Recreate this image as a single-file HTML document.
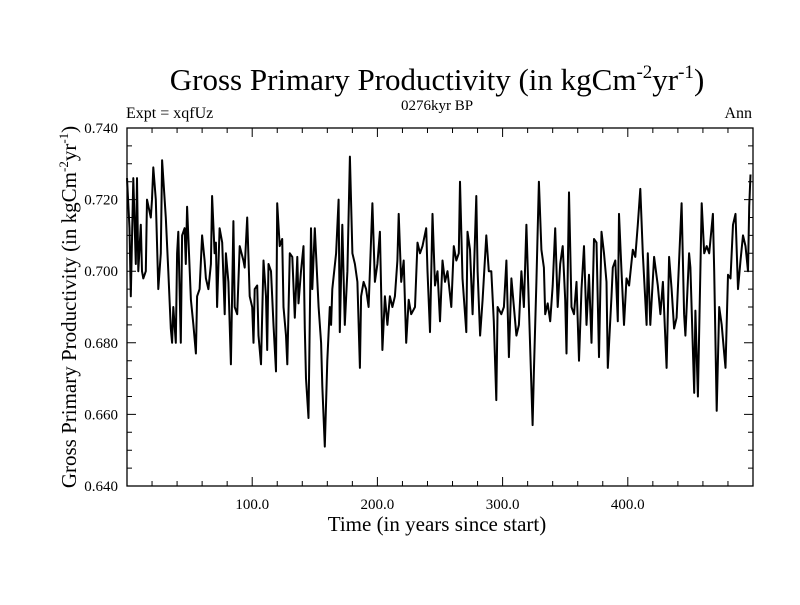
<!DOCTYPE html>
<html><head><meta charset="utf-8"><style>
body{margin:0;background:#fff}
svg text{font-family:"Liberation Serif",serif;fill:#000}
</style></head><body>
<svg id="c" width="800" height="600" xmlns="http://www.w3.org/2000/svg">
<rect width="800" height="600" fill="#fff"/>
<text x="437" y="90" font-size="31" text-anchor="middle">Gross Primary Productivity (in kgCm<tspan dy="-12" font-size="19">-2</tspan><tspan dy="12">yr</tspan><tspan dy="-12" font-size="19">-1</tspan><tspan dy="12">)</tspan></text>
<text x="437" y="110" font-size="15" text-anchor="middle">0276kyr BP</text>
<text x="126" y="118" font-size="16">Expt = xqfUz</text>
<text x="752" y="118" font-size="16" text-anchor="end">Ann</text>
<text x="437" y="531" font-size="21" text-anchor="middle">Time (in years since start)</text>
<text transform="translate(76,307) rotate(-90)" font-size="21" text-anchor="middle">Gross Primary Productivity (in kgCm<tspan dy="-8" font-size="13">-2</tspan><tspan dy="8">yr</tspan><tspan dy="-8" font-size="13">-1</tspan><tspan dy="8">)</tspan></text>
<g id="axes"></g>
</svg>
<script>
const years=[0,2,3,5,7,8,9,11,12,13,15,16,19,20,21,23,24,25,27,28,31,33,35,36,37,39,40,41,43,44,46,47,48,51,53,55,56,58,60,62,63,65,67,68,70,71,72,74,76,78,79,81,83,85,86,88,90,93,94,96,98,100,101,102,104,105,107,109,111,112,113,115,117,119,120,122,124,125,127,128,130,132,134,136,137,139,141,142,143,145,147,148,150,153,
155,156,158,160,162,163,164,167,169,170,172,174,176,178,180,182,184,186,187,189,191,193,196,198,200,202,204,206,208,210,212,214,216,217,219,221,223,225,227,230,232,234,236,239,240,242,244,246,248,250,252,254,256,259,261,263,265,266,268,271,272,274,276,279,280,282,284,287,289,291,293,295,296,299,301,303,305,307,309,311,313,315,317,319,321,
324,325,327,329,331,333,334,336,338,340,342,344,346,348,350,351,353,355,357,359,361,363,365,367,369,371,373,375,377,379,381,383,384,387,388,390,392,393,395,397,399,401,404,406,408,410,412,415,416,418,421,424,426,428,431,433,435,437,439,441,443,445,446,449,450,453,454,456,459,461,463,465,468,469,471,473,475,477,478,480,482,484,486,488,490,492,494,496,497,498];
const gpp=[0.726,0.712,0.693,0.726,0.702,0.726,0.700,0.713,0.700,0.698,0.700,0.720,0.715,0.720,0.729,0.720,0.708,0.695,0.705,0.731,0.715,0.700,0.684,0.680,0.690,0.680,0.705,0.711,0.680,0.710,0.712,0.702,0.718,0.692,0.685,0.677,0.693,0.695,0.710,0.703,0.698,0.695,0.702,0.721,0.705,0.708,0.690,0.712,0.708,0.688,0.705,0.697,0.674,0.714,0.690,0.688,0.707,0.703,0.701,0.715,0.693,0.690,0.680,0.695,0.696,0.682,0.674,0.703,0.693,0.678,0.702,0.700,0.685,0.672,0.719,0.707,0.709,0.690,0.682,0.674,0.705,0.704,0.687,0.704,0.691,0.700,0.707,0.684,0.670,0.659,0.712,0.695,0.712,0.690,
0.680,0.668,0.651,0.675,0.690,0.685,0.695,0.705,0.720,0.683,0.713,0.685,0.700,0.732,0.705,0.702,0.697,0.673,0.693,0.697,0.695,0.690,0.719,0.697,0.702,0.711,0.678,0.693,0.685,0.693,0.690,0.693,0.703,0.716,0.697,0.703,0.680,0.692,0.688,0.690,0.708,0.705,0.707,0.712,0.700,0.683,0.716,0.696,0.700,0.686,0.703,0.697,0.700,0.690,0.707,0.703,0.705,0.725,0.698,0.683,0.711,0.706,0.688,0.721,0.700,0.682,0.692,0.710,0.700,0.700,0.686,0.664,0.690,0.688,0.690,0.703,0.676,0.698,0.690,0.682,0.685,0.700,0.690,0.713,0.690,
0.657,0.672,0.697,0.725,0.706,0.701,0.688,0.691,0.686,0.696,0.712,0.690,0.702,0.707,0.692,0.677,0.722,0.690,0.688,0.697,0.675,0.695,0.707,0.685,0.699,0.680,0.709,0.708,0.676,0.711,0.705,0.697,0.673,0.693,0.701,0.703,0.686,0.716,0.700,0.685,0.698,0.696,0.706,0.704,0.713,0.723,0.705,0.685,0.705,0.685,0.704,0.696,0.688,0.697,0.673,0.704,0.695,0.684,0.687,0.703,0.719,0.688,0.682,0.705,0.701,0.666,0.689,0.665,0.719,0.705,0.707,0.705,0.716,0.700,0.661,0.690,0.685,0.677,0.673,0.699,0.698,0.713,0.716,0.695,0.703,0.710,0.707,0.700,0.718,0.727];
const yTicks=[0.640,0.660,0.680,0.700,0.720,0.740];
const xTicks=[100,200,300,400];
const X0=127,X1=753,Y0=486,Y1=128,XMIN=0,XMAX=500,YMIN=0.64,YMAX=0.74;
const sx=v=>X0+(v-XMIN)/(XMAX-XMIN)*(X1-X0);
const sy=v=>Y0-(v-YMIN)/(YMAX-YMIN)*(Y0-Y1);
const NS="http://www.w3.org/2000/svg";
const g=document.getElementById('axes');
function mk(t,a){const e=document.createElementNS(NS,t);for(const k in a)e.setAttribute(k,a[k]);g.appendChild(e);return e;}
let d='';
for(let i=0;i<years.length;i++)d+=(i?'L':'M')+sx(years[i]).toFixed(1)+','+sy(gpp[i]).toFixed(1);
const ln=mk('path',{d:d,fill:'none',stroke:'#000','stroke-width':2,'stroke-linejoin':'round'});


const fr=mk('rect',{x:X0,y:Y1,width:X1-X0,height:Y0-Y1,fill:'none',stroke:'#000','stroke-width':1.3});


let td='';
for(let v=20;v<XMAX;v+=20){const x=sx(v);const L=(v%100===0)?9:5;td+=`M${x},${Y0}v${-L}M${x},${Y1}v${L}`;}
for(let k=1;k<20;k++){const v=YMIN+k*0.005;const y=sy(v);const L=(k%4===0)?9:5;td+=`M${X0},${y}h${L}M${X1},${y}h${-L}`;}
const tk=mk('path',{d:td,stroke:'#000','stroke-width':1});


yTicks.forEach(v=>{const t=mk('text',{x:118,y:sy(v)+5,'font-size':15,'text-anchor':'end'});t.textContent=v.toFixed(3);

});
xTicks.forEach(v=>{const t=mk('text',{x:sx(v),y:Y0+23,'font-size':15,'text-anchor':'middle'});t.textContent=v.toFixed(1);

});
</script>
</body></html>
